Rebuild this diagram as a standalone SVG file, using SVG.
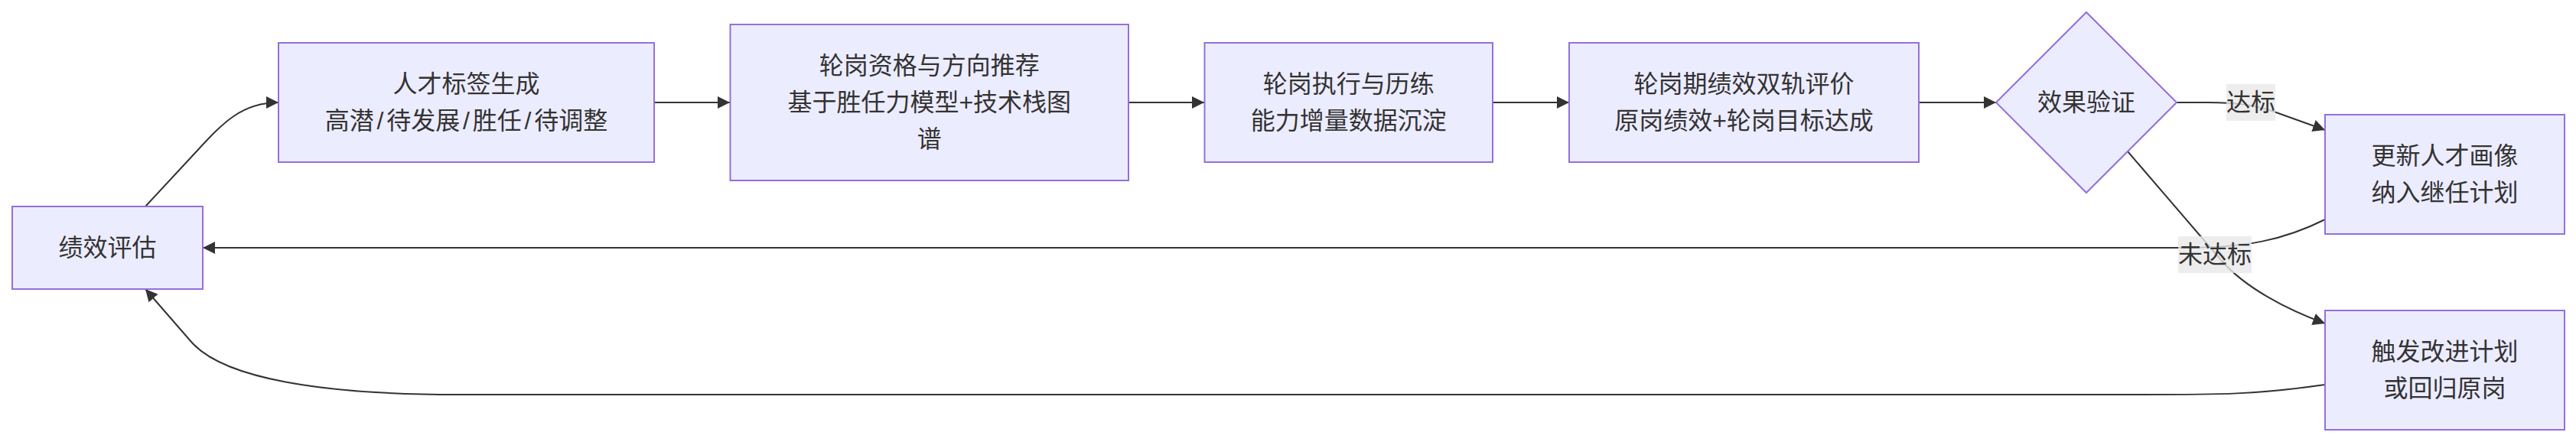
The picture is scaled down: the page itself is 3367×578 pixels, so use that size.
<svg xmlns="http://www.w3.org/2000/svg" width="3367" height="578" viewBox="0 0 3367 578">
<style>
.node rect, .node polygon { fill: #ECECFF; stroke: #9370DB; stroke-width: 2; }
text { font-family: "Liberation Sans", "Noto Sans CJK SC", sans-serif; font-size: 32px; fill: #333; text-anchor: middle; dominant-baseline: central; }
.edge { fill: none; stroke: #333; stroke-width: 2; }
.lbl rect { fill: #e8e8e8; fill-opacity: 0.8; stroke: none; }
</style>
<defs>
<marker id="arrow" viewBox="0 0 10 10" refX="10" refY="5" markerUnits="userSpaceOnUse" markerWidth="16" markerHeight="16" orient="auto">
<path d="M0,0 L10,5 L0,10 z" fill="#333"/>
</marker>
</defs>
<rect width="3367" height="578" fill="#ffffff"/>
<g id="connectors">
<path class="edge" d="M190,270 L255,200 C290,162 315,134 364,134" marker-end="url(#arrow)"/>
<path class="edge" d="M855,134 L954,134" marker-end="url(#arrow)"/>
<path class="edge" d="M1475,134 L1574,134" marker-end="url(#arrow)"/>
<path class="edge" d="M1951,134 L2051,134" marker-end="url(#arrow)"/>
<path class="edge" d="M2508,134 L2609,134" marker-end="url(#arrow)"/>
<path class="edge" d="M2845,134 L2885,134 C2925,134 2950,138 2975,147 L3039,170" marker-end="url(#arrow)"/>
<path class="edge" d="M2781,198 L2903,340 C2935,377 2990,405 3039,423" marker-end="url(#arrow)"/>
<path class="edge" d="M3039,287 C2985,314 2935,324 2855,324 L265,324" marker-end="url(#arrow)"/>
<path class="edge" d="M3039,503 C2950,516 2900,516 2800,516 L600,516 C420,516 292,495 250,447 L190,378" marker-end="url(#arrow)"/>
</g>
<g id="label-pass" class="lbl">
<rect x="2910" y="110" width="64" height="48"/>
<text x="2942" y="134">达标</text>
</g>
<g id="label-fail" class="lbl">
<rect x="2847" y="309" width="96" height="48"/>
<text x="2895" y="333">未达标</text>
</g>
<g id="node-eval" class="node">
<rect x="16" y="270" width="249" height="108"/>
<text x="140.5" y="324">绩效评估</text>
</g>
<g id="node-tag" class="node">
<rect x="364" y="56" width="491" height="156"/>
<text x="609.5" y="110">人才标签生成</text>
<text x="609.5" y="158">高潜<tspan dx="3.8">/</tspan><tspan dx="3.8">待发展</tspan><tspan dx="3.8">/</tspan><tspan dx="3.8">胜任</tspan><tspan dx="3.8">/</tspan><tspan dx="3.8">待调整</tspan></text>
</g>
<g id="node-recommend" class="node">
<rect x="954.5" y="32" width="520.5" height="204"/>
<text x="1214.75" y="86">轮岗资格与方向推荐</text>
<text x="1214.75" y="134">基于胜任力模型+技术栈图</text>
<text x="1214.75" y="182">谱</text>
</g>
<g id="node-exec" class="node">
<rect x="1574.5" y="56" width="376.5" height="156"/>
<text x="1762.75" y="110">轮岗执行与历练</text>
<text x="1762.75" y="158">能力增量数据沉淀</text>
</g>
<g id="node-review" class="node">
<rect x="2051" y="56" width="457" height="156"/>
<text x="2279.5" y="110">轮岗期绩效双轨评价</text>
<text x="2279.5" y="158">原岗绩效+轮岗目标达成</text>
</g>
<g id="node-verify" class="node">
<polygon points="2609,134 2727,16 2845,134 2727,252"/>
<text x="2727" y="134">效果验证</text>
</g>
<g id="node-update" class="node">
<rect x="3039" y="150" width="313" height="156"/>
<text x="3195.5" y="204">更新人才画像</text>
<text x="3195.5" y="252">纳入继任计划</text>
</g>
<g id="node-improve" class="node">
<rect x="3039" y="406" width="313" height="156"/>
<text x="3195.5" y="460">触发改进计划</text>
<text x="3195.5" y="508">或回归原岗</text>
</g>
</svg>
